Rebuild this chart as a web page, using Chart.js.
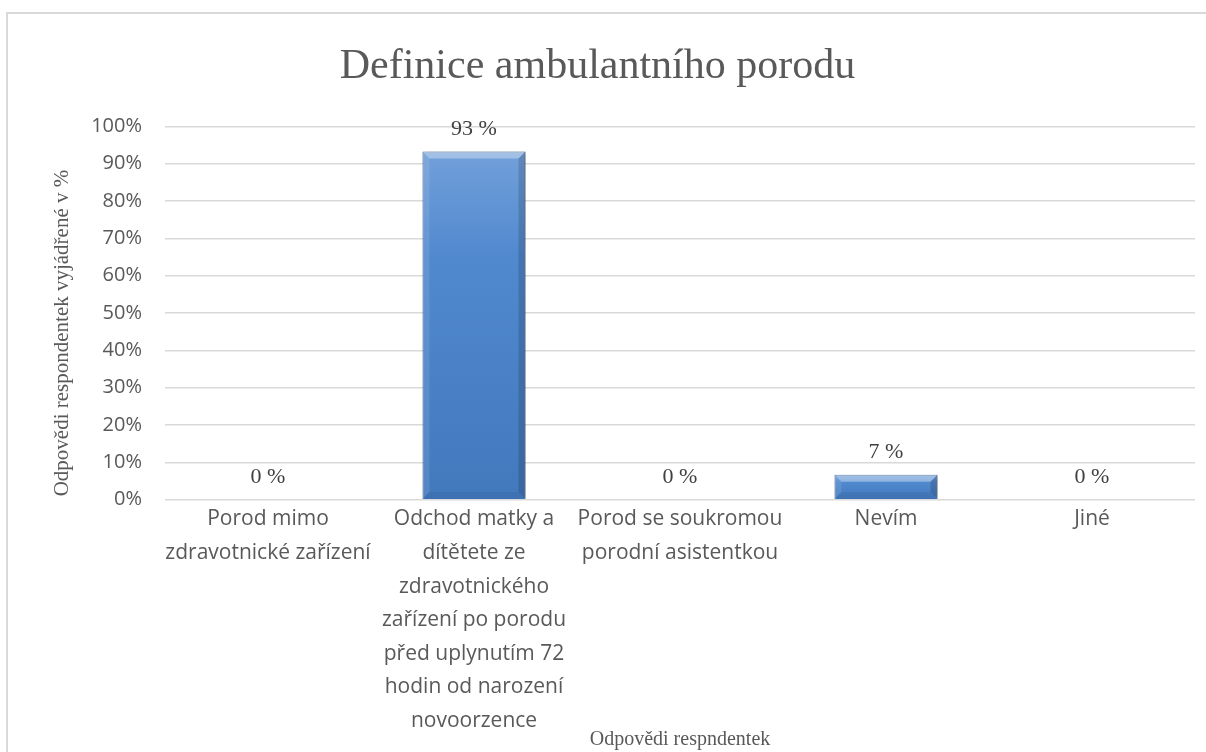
<!DOCTYPE html>
<html><head><meta charset="utf-8">
<script src="https://cdn.jsdelivr.net/npm/chart.js@4.4.1/dist/chart.umd.min.js"></script>
<style>
html,body{margin:0;padding:0;background:#fff;}
#wrap{position:relative;width:1206px;height:752px;overflow:hidden;}
#frame{position:absolute;left:6px;top:12px;width:1300px;height:900px;border-left:2px solid #d9d9d9;border-top:2px solid #d9d9d9;}
canvas{position:absolute;left:0;top:0;}
</style></head><body>
<div id="wrap"><div id="frame"></div><canvas id="c" width="1206" height="752"></canvas></div>
<script>
const chartTitle = 'Definice ambulantního porodu';
const yAxisTitle = 'Odpovědi respondentek vyjádřené v %';
const xAxisTitle = 'Odpovědi respndentek';
const categories = [
  ['Porod mimo', 'zdravotnické zařízení'],
  ['Odchod matky a', 'dítětete ze', 'zdravotnického', 'zařízení po porodu', 'před uplynutím 72', 'hodin od narození', 'novoorzence'],
  ['Porod se soukromou', 'porodní asistentkou'],
  ['Nevím'],
  ['Jiné']
];
const values = [0, 93.3, 0, 6.7, 0];
const valueLabels = ['0 %', '93 %', '0 %', '7 %', '0 %'];
const yMin = 0, yMax = 100, yStep = 10;

const decoPlugin = {
  id: 'barDeco',
  beforeDatasetsDraw(chart) {
    const c = chart.ctx;
    c.save();
    c.shadowColor = 'rgba(0,0,0,0.35)';
    c.shadowBlur = 5;
    c.shadowOffsetX = 1;
    c.shadowOffsetY = 1;
  },
  afterDatasetsDraw(chart) {
    const c = chart.ctx;
    c.restore();
    const meta = chart.getDatasetMeta(0);
    meta.data.forEach((el, i) => {
      const l = el.x - el.width / 2, r = el.x + el.width / 2, t = el.y, b = el.base;
      const h = b - t;
      if (h > 2) {
        const bv = Math.min(7, h / 2);
        const poly = (pts, col) => {
          c.beginPath(); c.moveTo(pts[0][0], pts[0][1]);
          for (let k = 1; k < pts.length; k++) c.lineTo(pts[k][0], pts[k][1]);
          c.closePath(); c.fillStyle = col; c.fill();
        };
        poly([[l, t], [r, t], [r - bv, t + bv], [l + bv, t + bv]], 'rgba(255,255,255,0.35)');
        poly([[l, b], [r, b], [r - bv, b - bv], [l + bv, b - bv]], 'rgba(0,0,0,0.06)');
        poly([[l, t], [l + bv, t + bv], [l + bv, b - bv], [l, b]], 'rgba(255,255,255,0.10)');
        poly([[r, t], [r - bv, t + bv], [r - bv, b - bv], [r, b]], 'rgba(0,0,0,0.15)');
      }
      c.save();
      c.font = '22px "Liberation Serif"';
      c.fillStyle = '#404040';
      c.textAlign = 'center';
      c.textBaseline = 'middle';
      c.fillText(valueLabels[i], el.x, el.y - 22);
      c.restore();
    });
    const ca = chart.chartArea;
    c.save();
    c.translate(62, (ca.top + ca.bottom) / 2 + 20);
    c.rotate(-Math.PI / 2);
    c.font = '21px "Liberation Serif"';
    c.fillStyle = '#595959';
    c.textAlign = 'center';
    c.textBaseline = 'middle';
    c.fillText(yAxisTitle, 0, 0);
    c.restore();
  }
};

new Chart(document.getElementById('c'), {
  type: 'bar',
  data: {
    labels: categories,
    datasets: [{
      data: values,
      backgroundColor(ctx) {
        const ch = ctx.chart, ys = ch.scales.y;
        if (!ys || ctx.type !== 'data') return '#4a7fc4';
        const top = ys.getPixelForValue(ctx.raw), base = ys.getPixelForValue(0);
        if (!isFinite(top) || base - top < 1) return '#4a7fc4';
        const g = ch.ctx.createLinearGradient(0, top, 0, base);
        g.addColorStop(0, '#72a0da');
        g.addColorStop(0.3, '#5189cf');
        g.addColorStop(1, '#4279bd');
        return g;
      },
      borderColor: '#2f5e99',
      borderWidth: 1,
      categoryPercentage: 0.5,
      barPercentage: 1
    }]
  },
  options: {
    responsive: false,
    animation: false,
    layout: { padding: { left: 0, right: 11, top: 0, bottom: 0 } },
    plugins: {
      legend: { display: false },
      tooltip: { enabled: false },
      title: {
        display: true, text: chartTitle, color: '#595959',
        font: { family: 'Liberation Serif', size: 42, weight: 'normal' },
        padding: { top: 42, bottom: 34 }
      }
    },
    scales: {
      x: {
        grid: { display: false, drawTicks: false },
        border: { display: false },
        ticks: { color: '#595959', font: { family: 'Open Sans', size: 21, lineHeight: 1.6 }, padding: 3, maxRotation: 0, autoSkip: false },
        title: { display: true, text: xAxisTitle, color: '#595959', font: { family: 'Liberation Serif', size: 20 }, padding: { top: 0, bottom: 0 } },
        afterFit(s) { s.height = 252.3; }
      },
      y: {
        min: yMin, max: yMax,
        ticks: { stepSize: yStep, callback: v => v + '%', color: '#595959', font: { family: 'Open Sans', size: 20 }, padding: 23 },
        grid: { color: '#d9d9d9', lineWidth: 1.5, drawTicks: false },
        border: { display: false },
        title: { display: false },
        afterFit(s) { s.width = 165; }
      }
    }
  },
  plugins: [decoPlugin]
});
</script>
</body></html>
